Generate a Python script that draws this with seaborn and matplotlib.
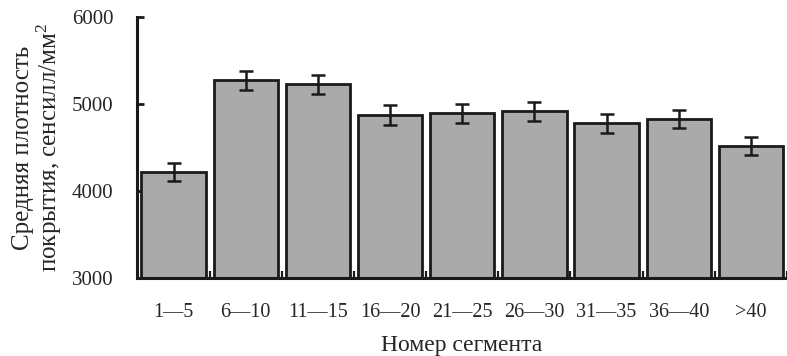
import matplotlib
matplotlib.use("Agg")
import matplotlib.pyplot as plt
import seaborn as sns
import pandas as pd
import numpy as np

segments = ["1—5", "6—10", "11—15", "16—20", "21—25", "26—30", "31—35", "36—40", ">40"]
density = [4220, 5275, 5228, 4875, 4893, 4918, 4778, 4828, 4513]
err = [108, 110, 108, 115, 108, 108, 112, 108, 103]

sns.set_theme(style="white")
plt.rcParams['font.family'] = ['Liberation Serif', 'DejaVu Serif']
plt.rcParams['mathtext.fontset'] = 'custom'
plt.rcParams['mathtext.rm'] = 'Liberation Serif'
plt.rcParams['mathtext.it'] = 'Liberation Serif:italic'

df = pd.DataFrame({"segment": segments, "density": density})

fig = plt.figure(figsize=(7.87, 3.56), dpi=100)
ax = fig.add_axes([0.174, 0.219, 0.826, 0.733])

sns.barplot(data=df, x="segment", y="density", color="#aaaaaa", saturation=1,
            edgecolor="#1a1a1a", linewidth=2, width=0.89, errorbar=None, ax=ax)
ax.errorbar(np.arange(len(segments)), density, yerr=err, fmt="none",
            ecolor="#1a1a1a", elinewidth=1.8, capsize=5, capthick=1.8)

ax.set_ylim(3000, 6000)
ax.set_xlim(-0.507, 8.40)
ax.set_yticks([3000, 4000, 5000, 6000])

for s in ["top", "right"]:
    ax.spines[s].set_visible(False)
for s in ["left", "bottom"]:
    ax.spines[s].set_color("#1a1a1a")
    ax.spines[s].set_linewidth(2.2)

ax.tick_params(axis="y", direction="in", length=5, width=2, color="#1a1a1a",
               labelsize=15, pad=17, left=True)
ax.tick_params(axis="x", which="major", length=0, labelsize=14.5, pad=18)
ax.set_xticks(np.arange(len(segments)) + 0.5, minor=True)
ax.tick_params(axis="x", which="minor", direction="in", length=5, width=1.6,
               color="#1a1a1a", bottom=True)

ax.set_xlabel("Номер сегмента", fontsize=17, labelpad=9)
ax.set_ylabel("")
fig.text(0.048, 0.585, "Средняя плотность\nпокрытия, сенсилл/мм$^2$", fontsize=18,
         rotation=90, ha="center", va="center", multialignment="center",
         linespacing=1.05)

fig.savefig("out.png", dpi=100)
